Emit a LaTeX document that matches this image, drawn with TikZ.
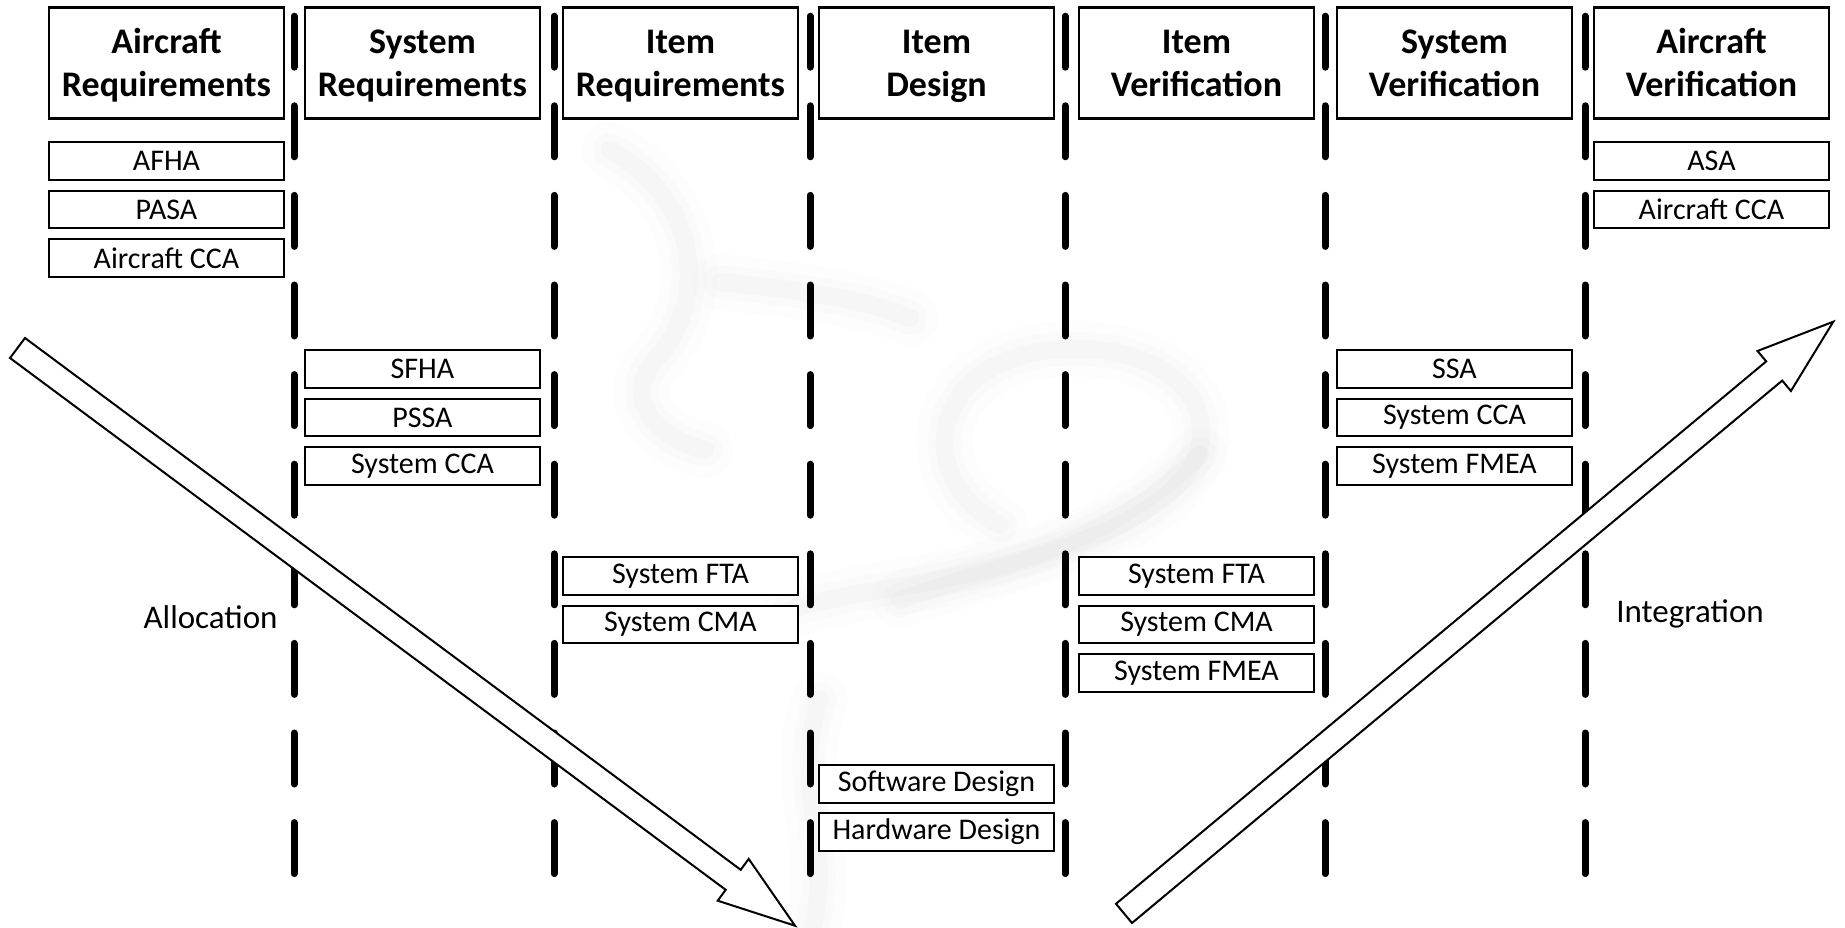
\documentclass[tikz,border=0pt]{standalone}
\usepackage{fontspec}
\setmainfont{Carlito}
% two-line header caption, set a little low in its box
\newcommand{\hdtext}[2]{\raisebox{-3.5pt}[\height][\depth]{\begin{tabular}{@{}c@{}}#1\\#2\end{tabular}}}
\begin{document}
\begin{tikzpicture}[x=1pt,y=-1pt,
  hdr/.style={draw=black, line width=2.4pt, fill=white, minimum width=235pt,
    minimum height=111pt, inner sep=0pt,
    font=\fontsize{36}{43.5}\selectfont\bfseries},
  act/.style={draw=black, line width=2.4pt, fill=white, minimum width=235pt,
    minimum height=37.5pt, inner sep=0pt, font=\fontsize{30}{36}\selectfont},
  lane/.style={line width=7pt, line cap=round, dash pattern=on 51pt off 38.6pt},
  bigarrow/.style={draw=black, line width=2pt, fill=white, line join=miter},
  phase/.style={font=\fontsize{33}{38}\selectfont, anchor=base, inner sep=0pt},
  smoke/.style={draw=black!45, line cap=round, line join=round, opacity=0.03, line width=18pt,
    preaction={draw=black!40, opacity=0.025, line width=34pt, line cap=round},
    preaction={draw=black!35, opacity=0.02, line width=56pt, line cap=round}}]

% canvas
\useasboundingbox (0,0) rectangle (1845,928);
\fill[white] (0,0) rectangle (1845,928);

% faint smoke swirl behind the chart
\draw[smoke] (610,150) .. controls (700,200) and (710,300) .. (655,360)
  .. controls (620,400) and (660,440) .. (705,450);
\draw[smoke] (720,282) .. controls (800,290) and (870,300) .. (910,318);
\draw[smoke] (1000,525) .. controls (915,480) and (925,365) .. (1050,350)
  .. controls (1180,338) and (1235,420) .. (1180,482)
  .. controls (1130,540) and (1000,565) .. (900,600);
\draw[smoke] (790,610) .. controls (900,575) and (1060,590) .. (1200,455);
\draw[smoke] (820,700) .. controls (790,780) and (835,850) .. (812,928);

% lane separators
\foreach \i/\x in {1/294,2/554,3/810,4/1065,5/1325,6/1585}{
  \coordinate (s\i t) at (\x,16.2);
  \coordinate (s\i b) at (\x,873.6);
  \draw[lane] (s\i t) -- (s\i b);
}

% phase headers
\node[hdr] (h1) at (166.5,63) {\hdtext{Aircraft}{Requirements}};
\node[hdr] (h2) at (422.5,63) {\hdtext{System}{Requirements}};
\node[hdr] (h3) at (680.5,63) {\hdtext{Item}{Requirements}};
\node[hdr] (h4) at (936.5,63) {\hdtext{Item}{Design}};
\node[hdr] (h5) at (1196.5,63) {\hdtext{Item}{Verification}};
\node[hdr] (h6) at (1454.5,63) {\hdtext{System}{Verification}};
\node[hdr] (h7) at (1711.5,63) {\hdtext{Aircraft}{Verification}};

% aircraft requirements
\node[act] (afha) at (166.5,161) {AFHA};
\node[act] (pasa) at (166.5,209.5) {PASA};
\node[act] (acca1) at (166.5,258) {Aircraft CCA};

% system requirements
\node[act] (sfha) at (422.5,369) {SFHA};
\node[act] (pssa) at (422.5,417.5) {PSSA};
\node[act] (scca1) at (422.5,466) {System CCA};

% item requirements
\node[act] (fta1) at (680.5,576) {System FTA};
\node[act] (cma1) at (680.5,624.5) {System CMA};

% item design
\node[act] (swd) at (936.5,784) {Software Design};
\node[act] (hwd) at (936.5,832) {Hardware Design};

% item verification
\node[act] (fta2) at (1196.5,576) {System FTA};
\node[act] (cma2) at (1196.5,624.5) {System CMA};
\node[act] (fmea2) at (1196.5,673) {System FMEA};

% system verification
\node[act] (ssa) at (1454.5,369) {SSA};
\node[act] (scca2) at (1454.5,417.5) {System CCA};
\node[act] (fmea1) at (1454.5,466) {System FMEA};

% aircraft verification
\node[act] (asa) at (1711.5,161) {ASA};
\node[act] (acca2) at (1711.5,209.5) {Aircraft CCA};

% allocation (down) and integration (up) block arrows
\draw[bigarrow] (25.0,338.0) -- (740.7,869.8) -- (748.7,858.9) -- (795,925.7)
  -- (717.7,900.7) -- (725.7,889.8) -- (10.0,358.0) -- cycle;
\draw[bigarrow] (1116.0,903.8) -- (1766.2,361.4) -- (1757.5,351.0) -- (1833.3,321.7)
  -- (1790.9,391.0) -- (1782.2,380.6) -- (1132.0,923.0) -- cycle;

\node[phase] (alloc) at (210.6,628) {Allocation};
\node[phase] (integ) at (1690,622) {Integration};
\end{tikzpicture}
\end{document}
